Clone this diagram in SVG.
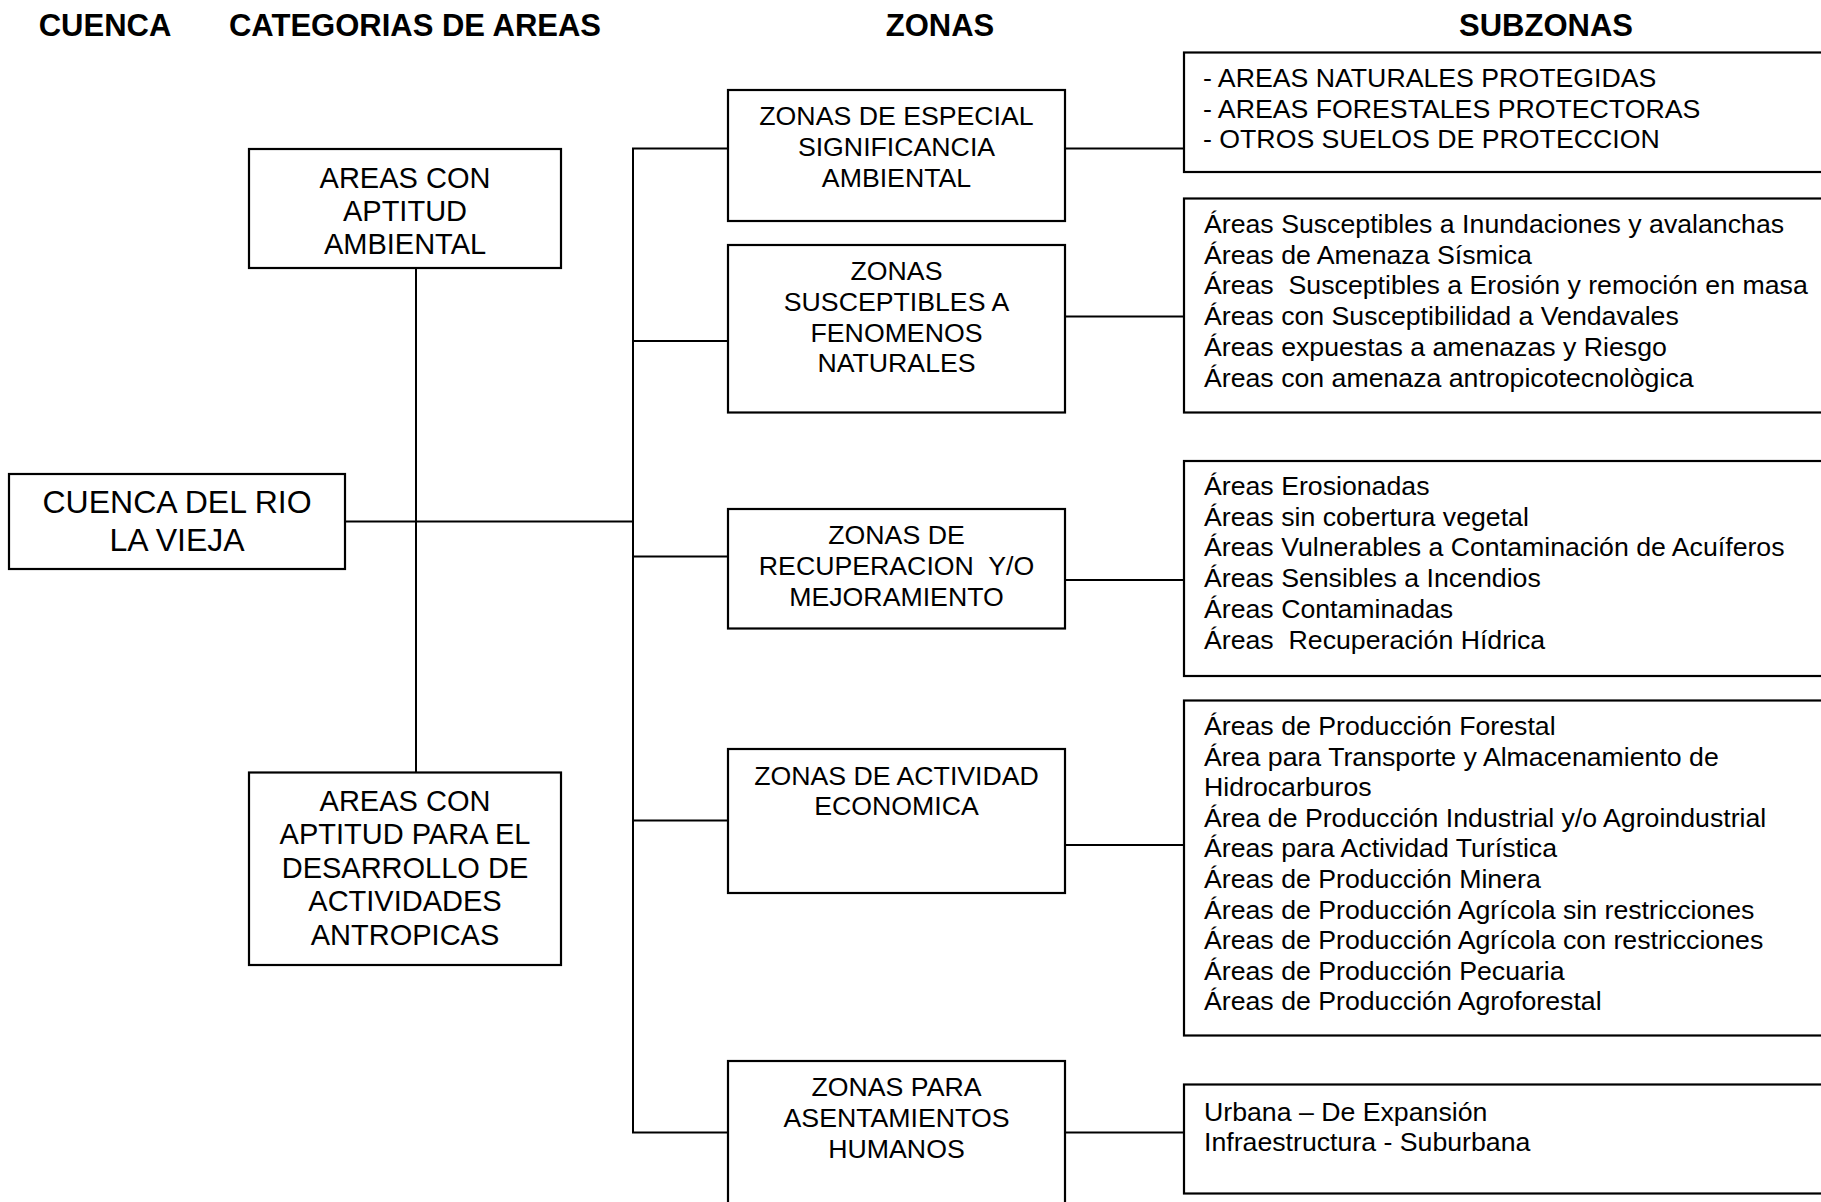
<svg xmlns="http://www.w3.org/2000/svg" width="1821" height="1202" viewBox="0 0 1821 1202">
  <style>
    .box { fill: #ffffff; stroke: #000000; stroke-width: 2.2; }
    .wire { fill: none; stroke: #000000; stroke-width: 2; }
    .head { font-family: "Liberation Sans", Arial, sans-serif; font-weight: bold; font-size: 31px; fill: #000000; text-anchor: middle; }
    .lbl { font-family: "Liberation Sans", Arial, sans-serif; font-size: 26.7px; fill: #000000; text-anchor: middle; white-space: pre; }
    .cat { font-family: "Liberation Sans", Arial, sans-serif; font-size: 29px; fill: #000000; text-anchor: middle; }
    .root { font-family: "Liberation Sans", Arial, sans-serif; font-size: 32px; fill: #000000; text-anchor: middle; }
    .list { font-family: "Liberation Sans", Arial, sans-serif; font-size: 26.7px; fill: #000000; white-space: pre; }
  </style>
  <rect x="0" y="0" width="1821" height="1202" fill="#ffffff"/>

  <!-- column headings -->
  <g id="headings">
    <text class="head" x="105" y="36">CUENCA</text>
    <text class="head" x="415" y="36">CATEGORIAS DE AREAS</text>
    <text class="head" x="940" y="36">ZONAS</text>
    <text class="head" x="1546" y="36">SUBZONAS</text>
  </g>

  <!-- connectors -->
  <g id="connectors">
    <!-- category spine -->
    <line class="wire" x1="416" y1="268" x2="416" y2="772"/>
    <!-- root to zone trunk -->
    <line class="wire" x1="345" y1="521.5" x2="633" y2="521.5"/>
    <!-- zone trunk -->
    <line class="wire" x1="633" y1="148.5" x2="633" y2="1132.5"/>
    <!-- trunk to zones -->
    <line class="wire" x1="632" y1="148.5" x2="728" y2="148.5"/>
    <line class="wire" x1="633" y1="341" x2="728" y2="341"/>
    <line class="wire" x1="633" y1="556.5" x2="728" y2="556.5"/>
    <line class="wire" x1="633" y1="820.5" x2="728" y2="820.5"/>
    <line class="wire" x1="632" y1="1132.5" x2="728" y2="1132.5"/>
    <!-- zones to subzones -->
    <line class="wire" x1="1065" y1="148.5" x2="1184" y2="148.5"/>
    <line class="wire" x1="1065" y1="316.5" x2="1184" y2="316.5"/>
    <line class="wire" x1="1065" y1="580" x2="1184" y2="580"/>
    <line class="wire" x1="1065" y1="845" x2="1184" y2="845"/>
    <line class="wire" x1="1065" y1="1132.5" x2="1184" y2="1132.5"/>
  </g>

  <!-- basin -->
  <g id="cuenca">
    <rect class="box" x="9" y="474" width="336" height="95"/>
    <text class="root" x="177" y="513">CUENCA DEL RIO</text>
    <text class="root" x="177" y="550.5">LA VIEJA</text>
  </g>

  <!-- area categories -->
  <g id="cat-ambiental">
    <rect class="box" x="249" y="149" width="312" height="119"/>
    <text class="cat" x="405" y="187.5">AREAS CON</text>
    <text class="cat" x="405" y="220.8">APTITUD</text>
    <text class="cat" x="405" y="254">AMBIENTAL</text>
  </g>
  <g id="cat-antropicas">
    <rect class="box" x="249" y="772.5" width="312" height="192.5"/>
    <text class="cat" x="405" y="811">AREAS CON</text>
    <text class="cat" x="405" y="844.4">APTITUD PARA EL</text>
    <text class="cat" x="405" y="877.8">DESARROLLO DE</text>
    <text class="cat" x="405" y="911.2">ACTIVIDADES</text>
    <text class="cat" x="405" y="944.6">ANTROPICAS</text>
  </g>

  <!-- zones -->
  <g id="zona-especial">
    <rect class="box" x="728" y="90" width="337" height="131"/>
    <text class="lbl" x="896.5" y="125">ZONAS DE ESPECIAL</text>
    <text class="lbl" x="896.5" y="155.8">SIGNIFICANCIA</text>
    <text class="lbl" x="896.5" y="186.6">AMBIENTAL</text>
  </g>
  <g id="zona-fenomenos">
    <rect class="box" x="728" y="245" width="337" height="167.5"/>
    <text class="lbl" x="896.5" y="280">ZONAS</text>
    <text class="lbl" x="896.5" y="310.8">SUSCEPTIBLES A</text>
    <text class="lbl" x="896.5" y="341.6">FENOMENOS</text>
    <text class="lbl" x="896.5" y="372.4">NATURALES</text>
  </g>
  <g id="zona-recuperacion">
    <rect class="box" x="728" y="509" width="337" height="119.5"/>
    <text class="lbl" x="896.5" y="544">ZONAS DE</text>
    <text class="lbl" x="896.5" y="574.8">RECUPERACION  Y/O</text>
    <text class="lbl" x="896.5" y="605.6">MEJORAMIENTO</text>
  </g>
  <g id="zona-economica">
    <rect class="box" x="728" y="749" width="337" height="144"/>
    <text class="lbl" x="896.5" y="785">ZONAS DE ACTIVIDAD</text>
    <text class="lbl" x="896.5" y="815">ECONOMICA</text>
  </g>
  <g id="zona-asentamientos">
    <rect class="box" x="728" y="1061" width="337" height="160"/>
    <text class="lbl" x="896.5" y="1096">ZONAS PARA</text>
    <text class="lbl" x="896.5" y="1126.8">ASENTAMIENTOS</text>
    <text class="lbl" x="896.5" y="1157.6">HUMANOS</text>
  </g>

  <!-- subzones -->
  <g id="sub-especial">
    <rect class="box" x="1184" y="52.5" width="660" height="119.5"/>
    <text class="list" x="1203" y="87">- AREAS NATURALES PROTEGIDAS</text>
    <text class="list" x="1203" y="117.7">- AREAS FORESTALES PROTECTORAS</text>
    <text class="list" x="1203" y="148.4">- OTROS SUELOS DE PROTECCION</text>
  </g>
  <g id="sub-fenomenos">
    <rect class="box" x="1184" y="198.5" width="660" height="214"/>
    <text class="list" x="1204" y="233">Áreas Susceptibles a Inundaciones y avalanchas</text>
    <text class="list" x="1204" y="263.7">Áreas de Amenaza Sísmica</text>
    <text class="list" x="1204" y="294.4">Áreas  Susceptibles a Erosión y remoción en masa</text>
    <text class="list" x="1204" y="325.1">Áreas con Susceptibilidad a Vendavales</text>
    <text class="list" x="1204" y="355.8">Áreas expuestas a amenazas y Riesgo</text>
    <text class="list" x="1204" y="386.5">Áreas con amenaza antropicotecnològica</text>
  </g>
  <g id="sub-recuperacion">
    <rect class="box" x="1184" y="461" width="660" height="215"/>
    <text class="list" x="1204" y="495">Áreas Erosionadas</text>
    <text class="list" x="1204" y="525.7">Áreas sin cobertura vegetal</text>
    <text class="list" x="1204" y="556.4">Áreas Vulnerables a Contaminación de Acuíferos</text>
    <text class="list" x="1204" y="587.1">Áreas Sensibles a Incendios</text>
    <text class="list" x="1204" y="617.8">Áreas Contaminadas</text>
    <text class="list" x="1204" y="648.5">Áreas  Recuperación Hídrica</text>
  </g>
  <g id="sub-economica">
    <rect class="box" x="1184" y="700.5" width="660" height="335"/>
    <text class="list" x="1204" y="735">Áreas de Producción Forestal</text>
    <text class="list" x="1204" y="765.6">Área para Transporte y Almacenamiento de</text>
    <text class="list" x="1204" y="796.2">Hidrocarburos</text>
    <text class="list" x="1204" y="826.8">Área de Producción Industrial y/o Agroindustrial</text>
    <text class="list" x="1204" y="857.4">Áreas para Actividad Turística</text>
    <text class="list" x="1204" y="888">Áreas de Producción Minera</text>
    <text class="list" x="1204" y="918.6">Áreas de Producción Agrícola sin restricciones</text>
    <text class="list" x="1204" y="949.2">Áreas de Producción Agrícola con restricciones</text>
    <text class="list" x="1204" y="979.8">Áreas de Producción Pecuaria</text>
    <text class="list" x="1204" y="1010.4">Áreas de Producción Agroforestal</text>
  </g>
  <g id="sub-asentamientos">
    <rect class="box" x="1184" y="1084.5" width="660" height="109"/>
    <text class="list" x="1204" y="1120.7">Urbana – De Expansión</text>
    <text class="list" x="1204" y="1151">Infraestructura - Suburbana</text>
  </g>
</svg>
